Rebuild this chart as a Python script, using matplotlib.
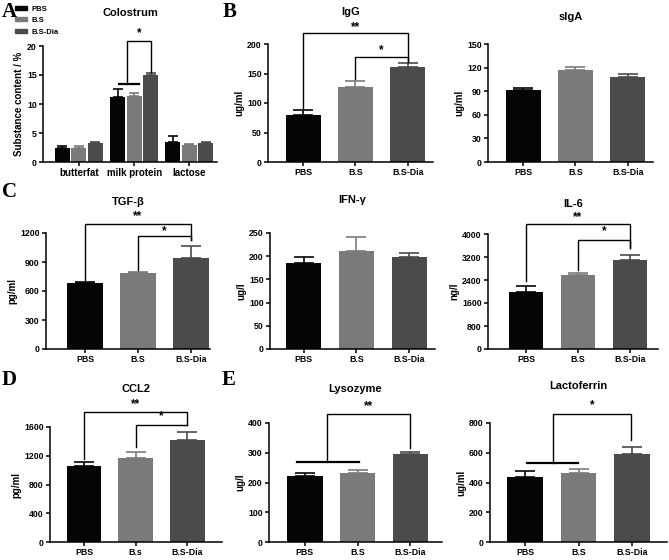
import numpy as np
import matplotlib
matplotlib.use("Agg")
import matplotlib.pyplot as plt
from matplotlib.patches import Patch

plt.rcParams['font.family'] = ['Liberation Sans', 'DejaVu Sans']
plt.rcParams['font.weight'] = 'bold'
plt.rcParams['axes.linewidth'] = 1.1

W, H = 669, 560
groups = ['PBS', 'B.S', 'B.S-Dia']
colors = ['#050505', '#7a7a7a', '#4b4b4b']

# panel A - colostrum composition
colo_cats = ['butterfat', 'milk protein', 'lactose']
colo_pbs = [2.4, 11.2, 3.5]
colo_pbs_err = [0.4, 1.35, 0.9]
colo_bs = [2.5, 11.3, 2.85]
colo_bs_err = [0.2, 0.6, 0.25]
colo_dia = [3.25, 14.95, 3.3]
colo_dia_err = [0.15, 0.45, 0.15]

# single-value panels
igg = [80, 127, 161]
igg_err = [8.7, 10, 6]
siga = [91, 116.5, 108]
siga_err = [2.6, 4.5, 4]
tgf = [683, 786, 941]
tgf_err = [14, 14, 121]
ifn = [185, 210.5, 197.5]
ifn_err = [14, 30, 10]
il6 = [1983, 2562, 3107]
il6_err = [197, 81, 151]
ccl2 = [1063, 1166, 1422]
ccl2_err = [47, 93, 103]
lyso = [222, 233, 295]
lyso_err = [9, 9, 7]
lacto = [435, 462, 590]
lacto_err = [45, 27, 47]

fig = plt.figure(figsize=(W / 100, H / 100), dpi=100)


def make_ax(x0, x1, y0, y1):
    return fig.add_axes([x0 / W, 1 - y1 / H, (x1 - x0) / W, (y1 - y0) / H])


def style(ax):
    ax.spines['top'].set_visible(False)
    ax.spines['right'].set_visible(False)
    ax.tick_params(axis='both', labelsize=6.3, length=3, width=1.1, pad=1.5)
    for lab in ax.get_xticklabels() + ax.get_yticklabels():
        lab.set_fontweight('bold')


def bars(ax, vals, errs, xl, ticks, ylab, labels=groups):
    x = np.arange(3)
    for i in range(3):
        ax.bar(x[i], vals[i], 0.67, color=colors[i], zorder=2)
        ax.errorbar(x[i], vals[i], yerr=[[0], [errs[i]]], color=colors[i],
                    capsize=7.5, elinewidth=1.2, capthick=1.2, zorder=1)
    ax.set_xlim(*xl)
    ax.set_ylim(ticks[0], ticks[-1])
    ax.set_yticks(ticks)
    ax.set_xticks(x)
    ax.set_xticklabels(labels)
    ax.set_ylabel(ylab, fontsize=7, fontweight='bold', labelpad=2)
    style(ax)


def bracket(ax, xa, xb, ya, yb, ytop):
    ax.plot([xa, xa, xb, xb], [ya, ytop, ytop, yb], color='black', lw=1.0,
            clip_on=False, solid_joinstyle='miter')


def star(ax, x, y, s):
    ax.text(x, y, s, ha='center', va='center', fontsize=8.5, fontweight='bold',
            clip_on=False)


def title(ax, s, ypix):
    pos = ax.get_position()
    fig.text(pos.x0 + pos.width / 2, 1 - ypix / H, s, ha='center', va='center',
             fontsize=8, fontweight='bold')


def letter(s, xpix, ypix):
    fig.text(xpix / W, 1 - ypix / H, s, ha='left', va='center', fontsize=15,
             fontweight='bold', family='Liberation Serif')


# ---- A
ax = make_ax(43, 217, 46, 162)
xg = np.arange(3)
off = 0.3
bw = 0.27
for k, (v, e) in enumerate([(colo_pbs, colo_pbs_err), (colo_bs, colo_bs_err),
                            (colo_dia, colo_dia_err)]):
    xs = xg + (k - 1) * off
    ax.bar(xs, v, bw, color=colors[k], zorder=2)
    ax.errorbar(xs, v, yerr=[np.zeros(3), e], fmt='none', ecolor=colors[k],
                capsize=3.5, elinewidth=1.2, capthick=1.2, zorder=1)
ax.set_xlim(-0.65, 2.5)
ax.set_ylim(0, 20)
ax.set_yticks([0, 5, 10, 15, 20])
ax.set_xticks(xg)
ax.set_xticklabels(colo_cats)
ax.set_ylabel('Substance content / %', fontsize=7, fontweight='bold', labelpad=2)
style(ax)
ax.tick_params(axis='x', labelsize=7)
ax.plot([0.72, 1.08], [13.4, 13.4], color='black', lw=1.6, clip_on=False)
bracket(ax, 0.87, 1.3, 13.4, 15.6, 20.9)
star(ax, 1.09, 22.3, '*')
title(ax, 'Colostrum', 13)
fig.legend(handles=[Patch(color=c) for c in colors], labels=groups,
           loc='upper left', bbox_to_anchor=(13 / W, 1 - 4 / H), frameon=False,
           fontsize=5.5, handlelength=1.6, handleheight=0.45, handletextpad=0.6,
           labelspacing=0.6, borderaxespad=0, borderpad=0.2)
letter('A', 2, 12)

# ---- B IgG
ax = make_ax(268, 433, 44, 162)
bars(ax, igg, igg_err, (-0.67, 2.48), [0, 50, 100, 150, 200], 'ug/ml')
bracket(ax, 0, 2, 92, 170, 218)
bracket(ax, 1, 2, 140, 170, 178)
star(ax, 1, 229, '**')
star(ax, 1.5, 190, '*')
title(ax, 'IgG', 12)
letter('B', 223, 12)

# sIgA
ax = make_ax(488, 653, 44, 162)
bars(ax, siga, siga_err, (-0.67, 2.48), [0, 30, 60, 90, 120, 150], 'ug/ml')
title(ax, 'sIgA', 17)

# ---- C TGF-b
ax = make_ax(46, 210, 233, 349)
bars(ax, tgf, tgf_err, (-0.74, 2.36), [0, 300, 600, 900, 1200], 'pg/ml')
bracket(ax, 0, 2, 710, 1130, 1293)
bracket(ax, 1, 2, 820, 1130, 1165)
star(ax, 1, 1370, '**')
star(ax, 1.5, 1220, '*')
title(ax, 'TGF-β', 202)
letter('C', 2, 192)

# IFN-g
ax = make_ax(270, 435, 233, 349)
bars(ax, ifn, ifn_err, (-0.64, 2.49), [0, 50, 100, 150, 200, 250], 'ug/l')
title(ax, 'IFN-γ', 200)

# IL-6
ax = make_ax(488, 658, 234, 349)
bars(ax, il6, il6_err, (-0.73, 2.54), [0, 800, 1600, 2400, 3200, 4000], 'ng/l')
bracket(ax, 0, 2, 2354, 3513, 4348)
bracket(ax, 1, 2, 2760, 3513, 3803)
star(ax, 1, 4600, '**')
star(ax, 1.5, 4090, '*')
title(ax, 'IL-6', 204)

# ---- D CCL2
ax = make_ax(50, 222, 427, 542)
bars(ax, ccl2, ccl2_err, (-0.66, 2.67), [0, 400, 800, 1200, 1600], 'pg/ml',
     labels=['PBS', 'B.s', 'B.S-Dia'])
bracket(ax, 0, 2, 1152, 1632, 1805)
bracket(ax, 1, 2, 1320, 1632, 1632)
star(ax, 1, 1915, '**')
star(ax, 1.5, 1755, '*')
title(ax, 'CCL2', 389)
letter('D', 2, 380)

# ---- E Lysozyme
ax = make_ax(269, 442, 423, 542)
bars(ax, lyso, lyso_err, (-0.68, 2.6), [0, 100, 200, 300, 400], 'ug/l')
ax.plot([-0.15, 1.03], [268, 268], color='black', lw=1.6, clip_on=False)
bracket(ax, 0.42, 2, 268, 315, 430)
star(ax, 1.21, 455, '**')
title(ax, 'Lysozyme', 389)
letter('E', 222, 380)

# Lactoferrin
ax = make_ax(490, 667, 423, 542)
bars(ax, lacto, lacto_err, (-0.66, 2.66), [0, 200, 400, 600, 800], 'ug/ml')
ax.plot([0.04, 0.99], [534, 534], color='black', lw=1.6, clip_on=False)
bracket(ax, 0.52, 1.98, 534, 687, 862)
star(ax, 1.25, 920, '*')
title(ax, 'Lactoferrin', 386)

fig.savefig('out.png', dpi=100)
